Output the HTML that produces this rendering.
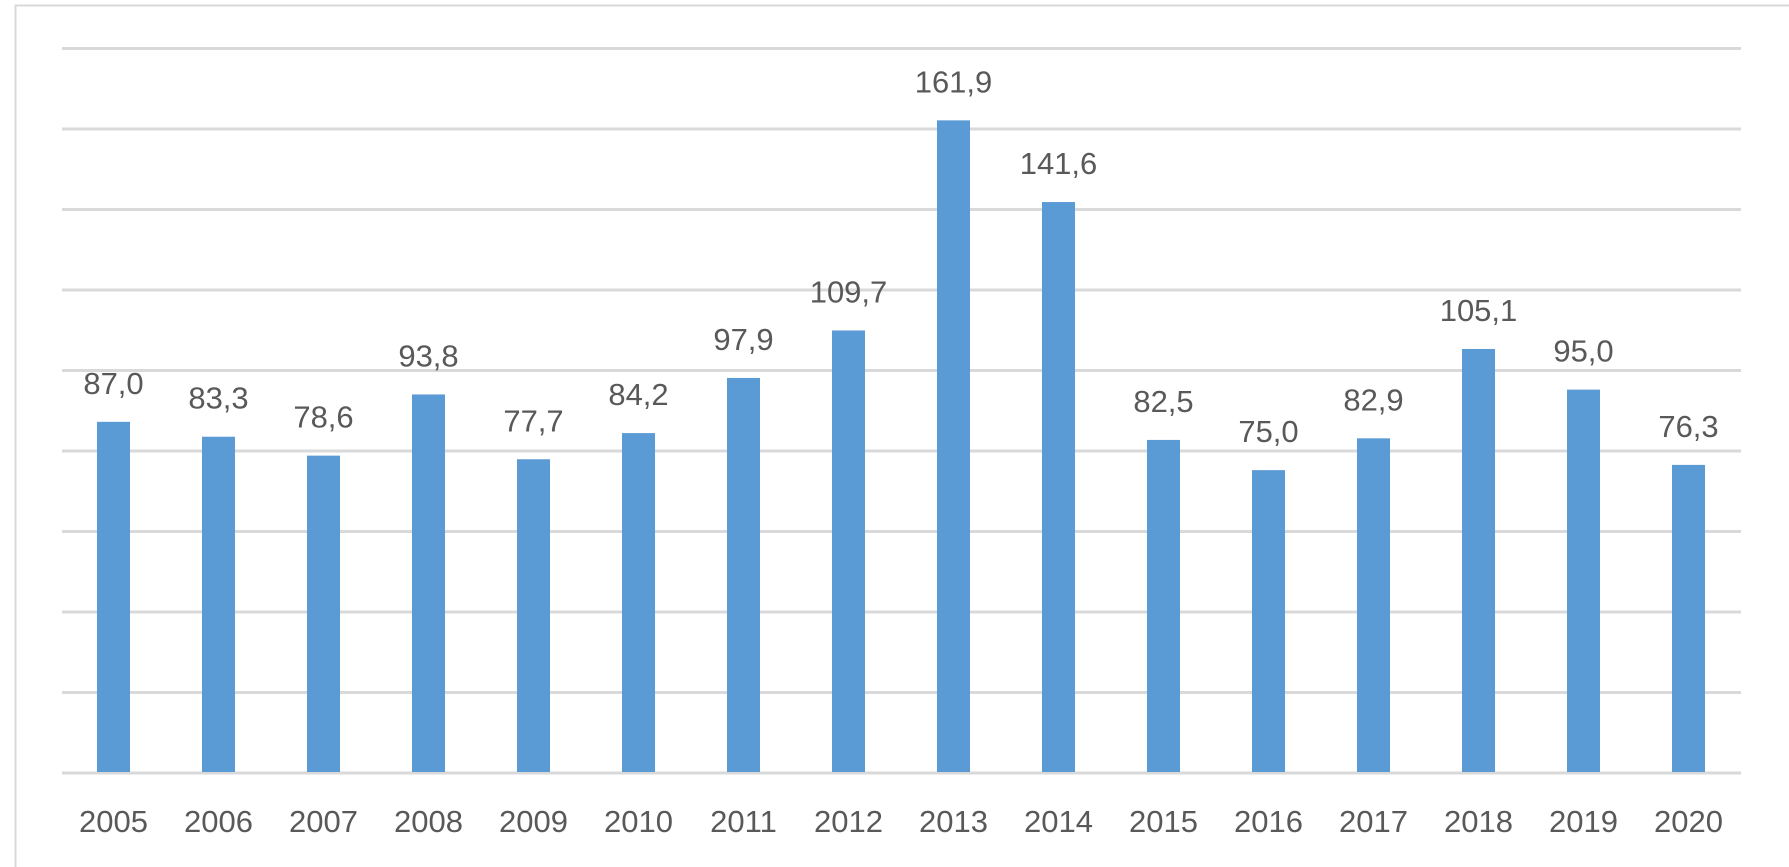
<!DOCTYPE html>
<html><head><style>body{margin:0;background:#fff}</style></head><body>
<svg width="1789" height="867" xmlns="http://www.w3.org/2000/svg" style="display:block">
<rect x="15.5" y="5.5" width="1790" height="880" fill="#fff" stroke="#d9d9d9" stroke-width="2"/>
<g stroke="#d9d9d9" stroke-width="3">
<line x1="62" x2="1741" y1="48.5" y2="48.5"/>
<line x1="62" x2="1741" y1="129" y2="129"/>
<line x1="62" x2="1741" y1="209.5" y2="209.5"/>
<line x1="62" x2="1741" y1="290" y2="290"/>
<line x1="62" x2="1741" y1="370.5" y2="370.5"/>
<line x1="62" x2="1741" y1="451" y2="451"/>
<line x1="62" x2="1741" y1="531.5" y2="531.5"/>
<line x1="62" x2="1741" y1="612" y2="612"/>
<line x1="62" x2="1741" y1="692.5" y2="692.5"/>
<line x1="62" x2="1741" y1="773" y2="773"/>
</g>
<g id="bars" fill="#5b9bd5"></g>
<g id="lbl" font-family="Liberation Sans, sans-serif" font-size="31" fill="#595959" text-anchor="middle"></g>
</svg>
<script>
var v=[87.0,83.3,78.6,93.8,77.7,84.2,97.9,109.7,161.9,141.6,82.5,75.0,82.9,105.1,95.0,76.3];
var b=document.getElementById('bars'),l=document.getElementById('lbl'),ns='http://www.w3.org/2000/svg';
v.forEach(function(d,i){var cx=113.5+105*i,h=d*4.025,top=772-h;
var r=document.createElementNS(ns,'rect');r.setAttribute('x',cx-16.5);r.setAttribute('y',top);r.setAttribute('width',33);r.setAttribute('height',h);b.appendChild(r);
var t=document.createElementNS(ns,'text');t.setAttribute('x',cx);t.setAttribute('y',top-28);t.textContent=d.toFixed(1).replace('.',',');l.appendChild(t);
var y=document.createElementNS(ns,'text');y.setAttribute('x',cx);y.setAttribute('y',832);y.textContent=2005+i;l.appendChild(y);});
</script>
</body></html>
